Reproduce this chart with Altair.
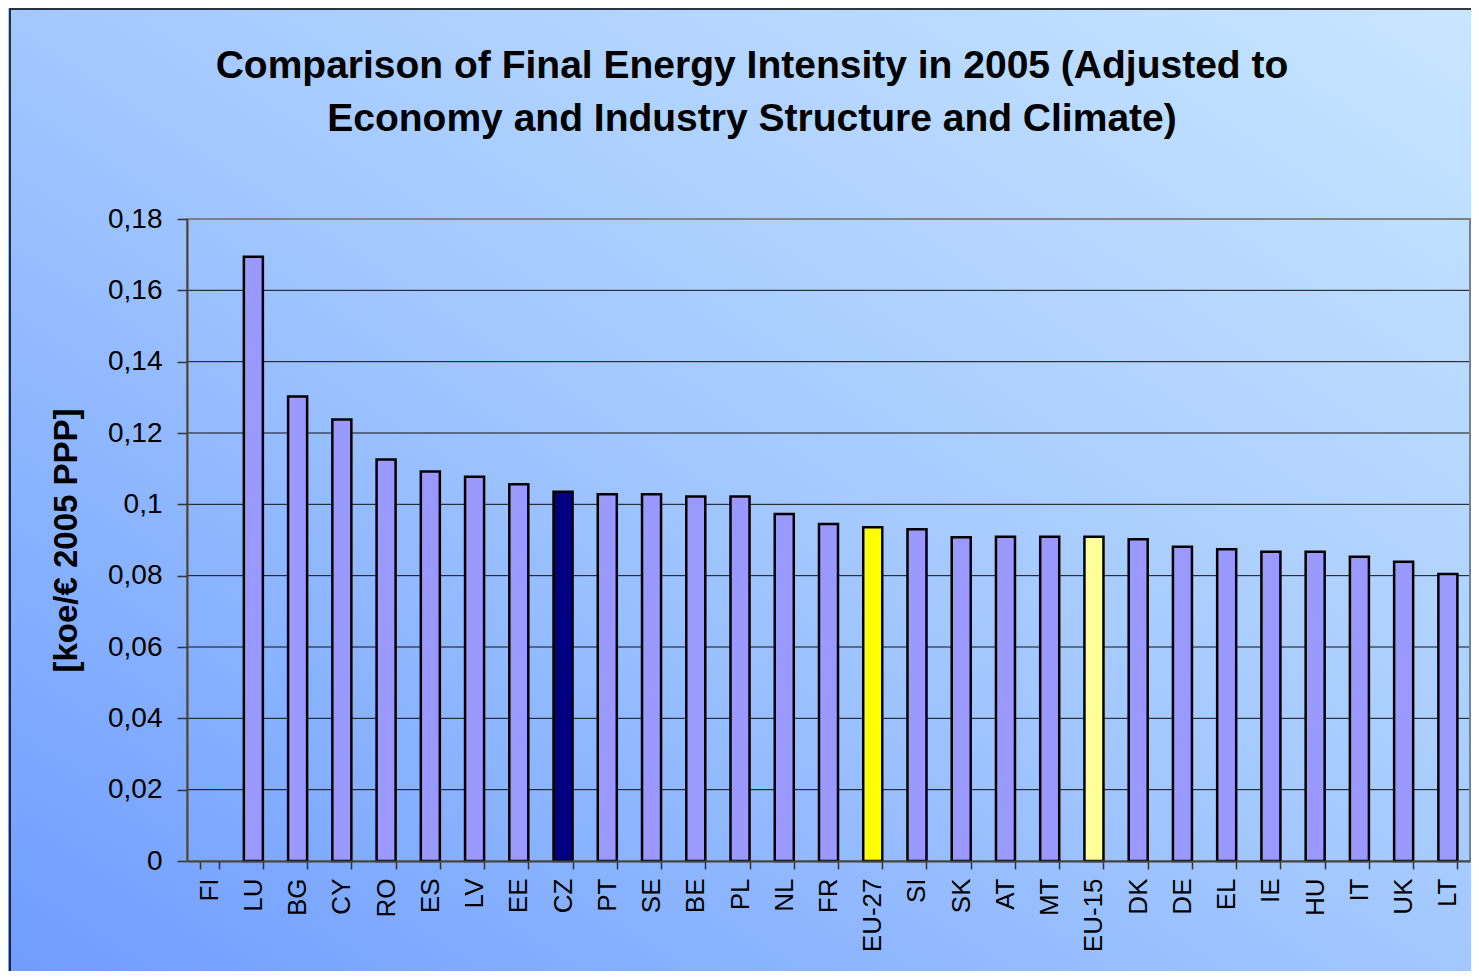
import altair as alt
import pandas as pd

countries = ["FI", "LU", "BG", "CY", "RO", "ES", "LV", "EE", "CZ", "PT", "SE", "BE", "PL",
             "NL", "FR", "EU-27", "SI", "SK", "AT", "MT", "EU-15", "DK", "DE", "EL", "IE",
             "HU", "IT", "UK", "LT"]
values = [None, 0.1694, 0.1302, 0.1238, 0.1126, 0.1092, 0.1077, 0.1056, 0.1035, 0.1028,
          0.1028, 0.1022, 0.1022, 0.0973, 0.0945, 0.0936, 0.0930, 0.0908, 0.0909, 0.0909,
          0.0909, 0.0902, 0.0881, 0.0874, 0.0867, 0.0867, 0.0853, 0.0839, 0.0805]
groups = ["country"] * len(countries)
groups[countries.index("CZ")] = "CZ"
groups[countries.index("EU-27")] = "EU-27"
groups[countries.index("EU-15")] = "EU-15"

group_names = ["country", "CZ", "EU-27", "EU-15"]
group_colors = ["#9999FF", "#000080", "#FFFF00", "#FFFF99"]

y_ticks = [0, 0.02, 0.04, 0.06, 0.08, 0.10, 0.12, 0.14, 0.16, 0.18]
grid_vals = [0.02, 0.04, 0.06, 0.08, 0.10, 0.12, 0.14, 0.16]

title_text = ("Comparison of Final Energy Intensity in 2005 (Adjusted to\n"
              "Economy and Industry Structure and Climate)")
y_title = "[koe/€ 2005 PPP]"

df = pd.DataFrame({"country": countries, "value": values, "group": groups})

W, H = 1283, 642
FONT = "Liberation Sans"

one = alt.Data(values=[{"a": 1}])

y_scale = alt.Scale(domain=[0, 0.18], nice=False)
y_axis = alt.Axis(values=y_ticks, title=y_title, titleFontSize=33, titleFont=FONT,
                  titleFontWeight="bold", titleColor="black", titleAngle=270,
                  titleX=-121, titleY=H / 2, titleAlign="center", titleBaseline="middle",
                  labelExpr="replace(format(datum.value, '~g'), '.', ',')",
                  labelFontSize=28, labelFont=FONT, labelColor="black", labelPadding=15,
                  tickSize=10, tickColor="#333333", tickWidth=1.5,
                  domainColor="#444444", domainWidth=2, grid=False, zindex=1)

bg = alt.Chart(one).mark_rect(
    fill=alt.LinearGradient(
        gradient="linear",
        stops=[alt.GradientStop(color="#6F9CFF", offset=0),
               alt.GradientStop(color="#A3C8FF", offset=0.5),
               alt.GradientStop(color="#C8E6FF", offset=1)],
        x1=0, y1=1, x2=1, y2=0),
    strokeWidth=0,
).encode(x=alt.value(-180), x2=alt.value(W + 5), y=alt.value(-212), y2=alt.value(H + 112))

border = alt.Chart(one).mark_rect(
    fillOpacity=0, stroke="black", strokeWidth=1.5
).encode(x=alt.value(-177), x2=alt.value(W + 60), y=alt.value(-210), y2=alt.value(H + 200))

title = alt.Chart(one).mark_text(
    text=title_text, lineBreak="\n", lineHeight=53, fontSize=39, font=FONT,
    fontWeight="bold", color="black", align="center", baseline="middle"
).encode(x=alt.value(565), y=alt.value(-153))

grid = alt.Chart(alt.Data(values=[{"v": v} for v in grid_vals])).mark_rule(
    color="#111111", strokeWidth=1
).encode(y=alt.Y("v:Q", scale=y_scale, axis=y_axis))

bars = alt.Chart(df).mark_bar(stroke="black", strokeWidth=2.5).encode(
    x=alt.X("country:N", sort=countries,
            scale=alt.Scale(domain=countries, paddingInner=0.57, paddingOuter=0.285),
            axis=alt.Axis(title=None, labelAngle=270, labelAlign="right", labelBaseline="middle",
                          labelFontSize=26, labelFont=FONT, labelColor="black",
                          tickBand="extent", tickSize=8, tickColor="#333333", tickWidth=1.5,
                          domainColor="#444444", domainWidth=2, labelPadding=9,
                          grid=False, zindex=1)),
    y=alt.Y("value:Q", scale=y_scale, axis=y_axis),
    color=alt.Color("group:N", scale=alt.Scale(domain=group_names, range=group_colors), legend=None),
)

frame = alt.Chart(one).mark_rect(
    fillOpacity=0, stroke="#808080", strokeWidth=2
).encode(x=alt.value(0), x2=alt.value(W), y=alt.value(0), y2=alt.value(H))

chart = alt.layer(bg, border, title, grid, frame, bars).properties(
    width=W, height=H,
    autosize=alt.AutoSizeParams(type="none"),
    padding={"left": 179, "top": 211, "right": 1, "bottom": 110},
).configure_view(stroke=None).configure(background="#9EC4FF")

chart.save("out.html", embed_options={"renderer": "svg", "actions": False})
